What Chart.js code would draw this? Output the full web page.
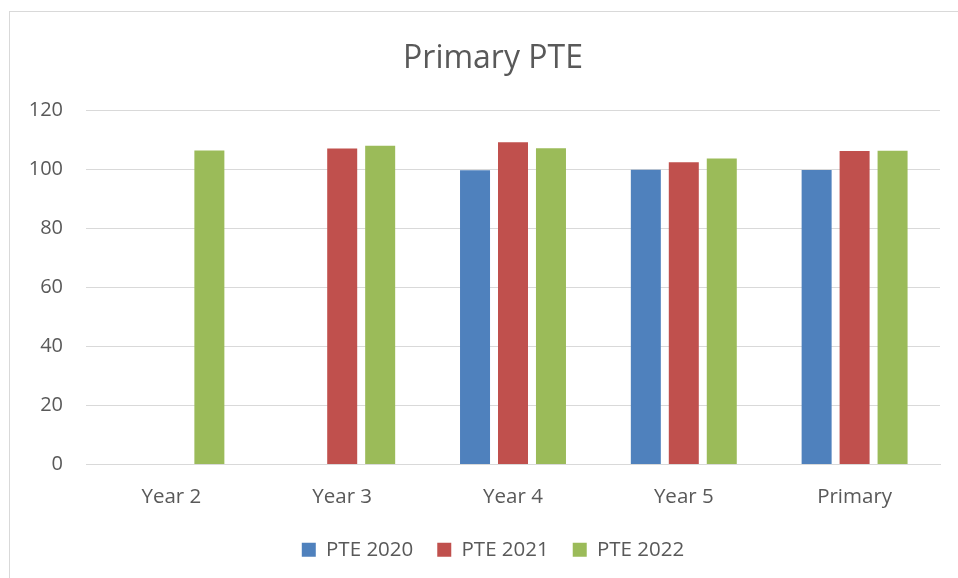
<!DOCTYPE html>
<html>
<head>
<meta charset="utf-8">
<script src="https://cdn.jsdelivr.net/npm/chart.js@4"></script>
<style>
    html, body { margin: 0; padding: 0; background: #fff; }
    #wrap { position: relative; width: 958px; height: 578px; overflow: hidden; }
    #frame { position: absolute; left: 9px; top: 11px; width: 1000px; height: 600px;
             border-left: 1px solid #d9d9d9; border-top: 1px solid #d9d9d9; }
    canvas { position: absolute; left: 0; top: 0; }
</style>
</head>
<body>
<div id="wrap">
    <div id="frame"></div>
    <canvas id="chart" width="986" height="578"></canvas>
</div>
<script>
const CATEGORIES = ["Year 2", "Year 3", "Year 4", "Year 5", "Primary"];
const PTE_2020 = [null, null, 99.7, 99.9, 99.8];
const PTE_2021 = [null, 107.1, 109.2, 102.4, 106.2];
const PTE_2022 = [106.4, 108.0, 107.2, 103.7, 106.3];
const Y_TICKS = [0, 20, 40, 60, 80, 100, 120];

const FONT = "'Open Sans', 'Liberation Sans', sans-serif";
const TEXT = "#595959";

function makeSet(label, data, color) {
    return {
        label: label,
        data: data,
        backgroundColor: color,
        borderWidth: 0,
        barPercentage: 0.79,
        categoryPercentage: 0.667
    };
}

const ctx = document.getElementById("chart").getContext("2d");
new Chart(ctx, {
    type: "bar",
    data: {
        labels: CATEGORIES,
        datasets: [
            makeSet("PTE 2020", PTE_2020, "#4f81bd"),
            makeSet("PTE 2021", PTE_2021, "#c0504d"),
            makeSet("PTE 2022", PTE_2022, "#9bbb59")
        ]
    },
    options: {
        responsive: false,
        animation: false,
        layout: { padding: { left: 0, right: 0, top: 40, bottom: 8 } },
        scales: {
            x: {
                grid: { display: false, drawTicks: false },
                border: { color: "#d9d9d9" },
                afterFit: axis => { axis.height = 51; },
                ticks: { color: TEXT, font: { family: FONT, size: 20.5 }, padding: 20 }
            },
            y: {
                min: 0,
                max: 120,
                afterBuildTicks: axis => { axis.ticks = Y_TICKS.map(v => ({ value: v })); },
                afterFit: axis => { axis.width = 86; },
                grid: { color: "#d9d9d9", drawTicks: false },
                border: { display: false },
                ticks: { color: TEXT, font: { family: FONT, size: 20 }, padding: 23 }
            },
            // empty right-hand spacer so the plot stops at x=940 while title/legend stay centred on the full box
            spacer: {
                position: "right",
                grid: { display: false, drawTicks: false },
                border: { display: false },
                ticks: { display: false },
                afterFit: axis => { axis.width = 46; }
            }
        },
        plugins: {
            title: {
                display: true,
                text: "Primary PTE",
                color: TEXT,
                font: { family: FONT, size: 32, weight: "normal" },
                padding: { top: 0, bottom: 32 }
            },
            legend: {
                position: "bottom",
                labels: {
                    color: TEXT,
                    font: { family: FONT, size: 20.5 },
                    boxWidth: 14,
                    boxHeight: 14,
                    padding: 24
                }
            },
            tooltip: { enabled: false }
        }
    }
});
</script>
</body>
</html>
